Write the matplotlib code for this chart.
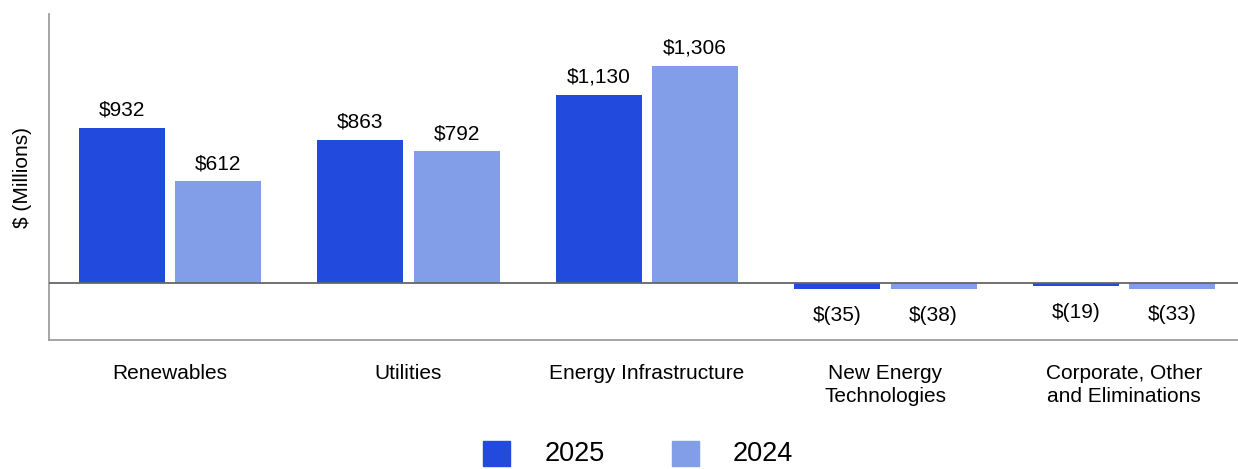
import matplotlib.pyplot as plt
import numpy as np
from matplotlib.patches import Rectangle

plt.rcParams["font.family"] = ["Liberation Sans", "DejaVu Sans"]

CATEGORIES = ["Renewables", "Utilities", "Energy Infrastructure",
              "New Energy\nTechnologies", "Corporate, Other\nand Eliminations"]
VALUES_2025 = [932, 863, 1130, -35, -19]
VALUES_2024 = [612, 792, 1306, -38, -33]
SERIES = ["2025", "2024"]
COLORS = ["#224bdd", "#839ee9"]


def fmt(v):
    return f"${v:,}" if v >= 0 else f"$({-v:,})"


fig = plt.figure(figsize=(12.38, 4.69), dpi=100)
ax = fig.add_axes([0.0396, 0.275, 0.9604, 0.695])

x = np.arange(len(CATEGORIES))
width = 0.361
offset = 0.2017
for vals, color, sign in [(VALUES_2025, COLORS[0], -1), (VALUES_2024, COLORS[1], 1)]:
    bars = ax.bar(x + sign * offset, vals, width=width, color=color, zorder=2)
    for b, v in zip(bars, vals):
        cx = b.get_x() + b.get_width() / 2
        if v >= 0:
            ax.annotate(fmt(v), (cx, v), xytext=(0, 6), textcoords="offset points",
                        ha="center", va="bottom", fontsize=15)
        else:
            ax.annotate(fmt(v), (cx, v), xytext=(0, -12), textcoords="offset points",
                        ha="center", va="top", fontsize=15)

ax.axhline(0, color="#666666", linewidth=1.3, zorder=3)
ax.set_xlim(-0.507, 4.478)
ax.set_ylim(-343, 1619)
ax.set_yticks([])
ax.set_xticks(x)
ax.set_xticklabels(CATEGORIES, fontsize=15, linespacing=1.3)
ax.tick_params(axis="x", length=0, pad=17)
for side in ["top", "right"]:
    ax.spines[side].set_visible(False)
ax.spines["left"].set_color("#9e9e9e")
ax.spines["bottom"].set_color("#9e9e9e")
ax.spines["left"].set_linewidth(1.3)
ax.spines["bottom"].set_linewidth(1.3)
ax.set_ylabel("$ (Millions)", fontsize=15, labelpad=12)

# legend drawn in figure coordinates
legend_items = [(483, 545), (672, 733)]
for (sx, tx), label, color in zip(legend_items, SERIES, COLORS):
    fig.patches.append(Rectangle((sx / 1238, 3 / 469), 27 / 1238, 25 / 469,
                                 transform=fig.transFigure, color=color))
    fig.text(tx / 1238, 1 - 454 / 469, label, fontsize=19.5, va="center", ha="left")

fig.savefig("out.png", dpi=100)
